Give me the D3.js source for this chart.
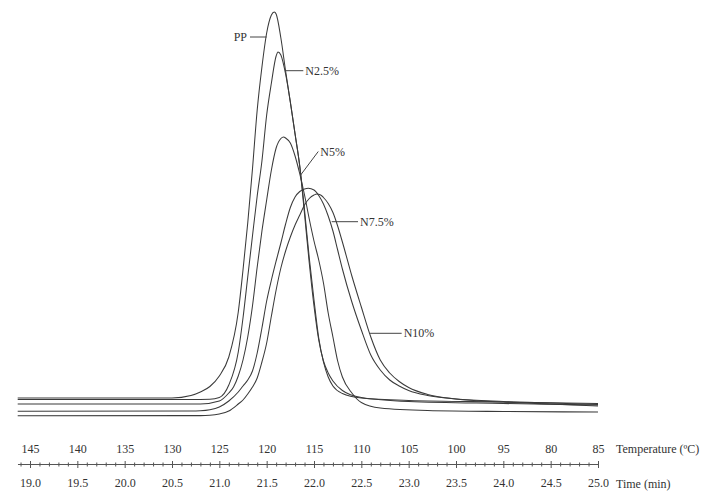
<!DOCTYPE html>
<html>
<head>
<meta charset="utf-8">
<script src="https://cdn.jsdelivr.net/npm/d3@7"></script>
<style>
  html, body { margin: 0; padding: 0; background: #fff; }
  svg { display: block; font-family: "Liberation Serif", "Times New Roman", serif; }
</style>
</head>
<body>
<svg id="chart" width="711" height="494"></svg>
<script>
// ---------- data ----------
const seriesNames = ["PP", "N2.5%", "N5%", "N7.5%", "N10%"];

const ppTime = [18.87, 20.5, 20.7, 20.8, 20.9, 21.0, 21.1, 21.2, 21.25, 21.3, 21.35, 21.4, 21.45, 21.5, 21.55, 21.58, 21.6, 21.65, 21.7, 21.75, 21.8, 21.85, 21.9, 21.95, 22.0, 22.05, 22.1, 22.15, 22.2, 22.3, 22.5, 23.0, 24.0, 25.0];
const ppFlow = [2.2, 2.2, 2.45, 2.8, 3.35, 4.4, 6.3, 10.8, 15.0, 19.7, 25.1, 31.0, 35.3, 38.7, 40.5, 40.8, 40.6, 38.2, 34.9, 31.8, 28.6, 25.4, 21.0, 16.2, 12.0, 8.2, 5.8, 4.3, 3.4, 2.65, 2.2, 1.95, 1.8, 1.65];

const n25Time = [18.87, 20.7, 20.9, 21.0, 21.1, 21.2, 21.25, 21.3, 21.35, 21.4, 21.45, 21.5, 21.55, 21.6, 21.62, 21.65, 21.7, 21.75, 21.8, 21.85, 21.9, 21.95, 22.0, 22.05, 22.1, 22.15, 22.2, 22.3, 22.5, 23.0, 24.0, 25.0];
const n25Flow = [2.05, 2.05, 2.07, 2.25, 3.5, 6.8, 10.2, 14.3, 18.4, 22.4, 25.9, 30.5, 33.7, 36.4, 36.8, 36.5, 34.6, 31.8, 28.6, 25.3, 20.6, 15.7, 11.4, 8.0, 5.9, 4.7, 3.9, 2.95, 2.25, 1.85, 1.65, 1.5];

const n5Time = [18.87, 20.8, 21.0, 21.1, 21.15, 21.2, 21.25, 21.3, 21.35, 21.4, 21.45, 21.5, 21.55, 21.6, 21.65, 21.68, 21.7, 21.75, 21.8, 21.85, 21.9, 21.95, 22.0, 22.05, 22.1, 22.15, 22.2, 22.25, 22.3, 22.4, 22.5, 22.7, 23.2, 24.0, 25.0];
const n5Flow = [1.6, 1.6, 1.9, 2.7, 3.3, 4.4, 6.0, 8.3, 11.4, 15.3, 18.9, 22.0, 25.0, 27.2, 28.15, 28.3, 28.2, 27.7, 26.4, 24.6, 22.5, 20.1, 17.9, 16.0, 13.7, 10.7, 8.3, 5.9, 4.3, 2.7, 1.75, 1.2, 0.95, 0.85, 0.8];

const n75Time = [18.87, 20.7, 20.8, 20.9, 21.0, 21.1, 21.2, 21.25, 21.3, 21.35, 21.4, 21.45, 21.5, 21.55, 21.6, 21.65, 21.7, 21.75, 21.8, 21.85, 21.9, 21.94, 22.0, 22.05, 22.1, 22.15, 22.2, 22.25, 22.3, 22.4, 22.5, 22.6, 22.7, 22.8, 22.9, 23.0, 23.2, 23.5, 24.0, 24.5, 25.0];
const n75Flow = [0.87, 0.9, 0.92, 1.02, 1.3, 1.9, 2.8, 3.4, 4.0, 4.9, 6.7, 9.2, 11.9, 14.0, 15.9, 17.7, 19.6, 21.25, 22.3, 22.85, 23.1, 23.17, 23.0, 22.45, 21.6, 20.4, 18.9, 17.0, 15.1, 11.8, 9.0, 6.5, 5.0, 4.0, 3.4, 2.95, 2.45, 2.1, 1.85, 1.7, 1.55];

const n10Time = [18.87, 20.8, 20.9, 21.0, 21.1, 21.2, 21.25, 21.3, 21.35, 21.4, 21.45, 21.5, 21.55, 21.6, 21.65, 21.7, 21.75, 21.8, 21.85, 21.9, 21.95, 22.0, 22.03, 22.07, 22.1, 22.15, 22.2, 22.25, 22.3, 22.4, 22.5, 22.6, 22.7, 22.8, 22.9, 23.0, 23.2, 23.5, 24.0, 24.5, 25.0];
const n10Flow = [0.43, 0.44, 0.47, 0.6, 0.9, 1.6, 2.0, 2.6, 3.3, 4.2, 5.8, 7.7, 10.4, 13.0, 15.2, 16.9, 18.3, 19.5, 20.5, 21.5, 22.15, 22.5, 22.6, 22.5, 22.25, 21.65, 20.75, 19.4, 17.8, 14.4, 11.3, 8.3, 6.0, 4.7, 3.85, 3.25, 2.55, 2.1, 1.8, 1.6, 1.4];

// axis tick labels
const timeTicks = [19.0, 19.5, 20.0, 20.5, 21.0, 21.5, 22.0, 22.5, 23.0, 23.5, 24.0, 24.5, 25.0];
const tempLabels = ["145", "140", "135", "130", "125", "120", "115", "110", "105", "100", "95", "80", "85"];
const tempTitle = "Temperature (ºC)";
const timeTitle = "Time (min)";

// curve labels: leader line [t0, v0] -> [t1, v1], text placed at the end
const labelNames = ["PP", "N2.5%", "N5%", "N7.5%", "N10%"];
const labelFrom = [[21.50, 38.3], [21.694, 34.93], [21.859, 24.5], [22.187, 19.83], [22.592, 8.67]];
const labelTo   = [[21.324, 38.3], [21.887, 34.93], [22.045, 26.85], [22.465, 19.83], [22.926, 8.67]];

// ---------- drawing ----------
const svg = d3.select("#chart");
const ink = "#333";

const x = d3.scaleLinear().domain([19, 25]).range([30, 598]);
const y = d3.scaleLinear().domain([0, 40]).range([420, 20]);

const series = [
  ppTime.map((t, i) => ({t, v: ppFlow[i]})),
  n25Time.map((t, i) => ({t, v: n25Flow[i]})),
  n5Time.map((t, i) => ({t, v: n5Flow[i]})),
  n75Time.map((t, i) => ({t, v: n75Flow[i]})),
  n10Time.map((t, i) => ({t, v: n10Flow[i]}))
];

const line = d3.line().x(d => x(d.t)).y(d => y(d.v)).curve(d3.curveMonotoneX);

svg.append("g").selectAll("path").data(series).join("path")
  .attr("d", line)
  .attr("fill", "none")
  .attr("stroke", "#3a3a3a")
  .attr("stroke-width", 1.05);

// labels
const lab = svg.append("g").attr("font-size", 12).attr("fill", ink);
labelNames.forEach((name, i) => {
  const [t0, v0] = labelFrom[i], [t1, v1] = labelTo[i];
  lab.append("line")
    .attr("x1", x(t0)).attr("y1", y(v0)).attr("x2", x(t1)).attr("y2", y(v1))
    .attr("stroke", "#444").attr("stroke-width", 1);
  const left = x(t1) < x(t0);
  lab.append("text")
    .attr("x", x(t1) + (left ? -3 : 2))
    .attr("y", y(v1) + 4)
    .attr("text-anchor", left ? "end" : "start")
    .text(name);
});

// axis
const axisY = 464.5;
const gAxis = svg.append("g").attr("transform", `translate(0,${axisY})`);

gAxis.append("line")
  .attr("x1", x(18.873)).attr("x2", x(25)).attr("y1", 0).attr("y2", 0)
  .attr("stroke", "#555").attr("stroke-width", 1);

const minorTicks = d3.range(189, 251).map(d => d / 10).filter(d => Math.abs(d * 2 - Math.round(d * 2)) > 1e-6);

const minorAxis = gAxis.append("g")
  .call(d3.axisBottom(x).tickValues(minorTicks).tickSize(2).tickFormat(""));
minorAxis.select(".domain").remove();
minorAxis.selectAll(".tick line").attr("y1", -2).attr("stroke", "#555");

const majorAxis = gAxis.append("g")
  .call(d3.axisBottom(x).tickValues(timeTicks).tickSize(3.5).tickPadding(10.5).tickFormat(d3.format(".1f")));
majorAxis.select(".domain").remove();
majorAxis.selectAll(".tick line").attr("y1", -3.5).attr("stroke", "#555");
majorAxis.selectAll("text").attr("font-family", "Liberation Serif").attr("font-size", 12).attr("fill", ink);

const tempAxis = gAxis.append("g")
  .call(d3.axisTop(x).tickValues(timeTicks).tickSize(0).tickPadding(11.5).tickFormat((d, i) => tempLabels[i]));
tempAxis.select(".domain").remove();
tempAxis.selectAll("text").attr("font-family", "Liberation Serif").attr("font-size", 12).attr("fill", ink);

svg.append("text").attr("x", 616).attr("y", 453).attr("font-size", 12).attr("fill", ink).text(tempTitle);
svg.append("text").attr("x", 616).attr("y", 487.5).attr("font-size", 12).attr("fill", ink).text(timeTitle);
</script>
</body>
</html>
